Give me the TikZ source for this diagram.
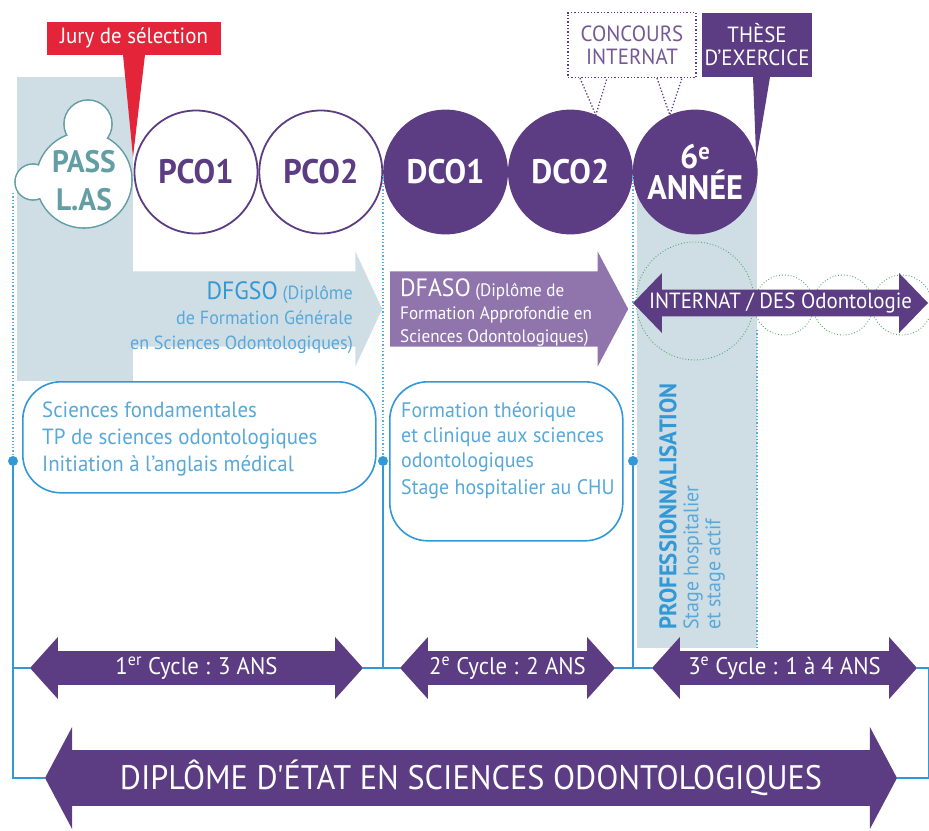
\documentclass[tikz,border=0pt]{standalone}
\usepackage{fontspec}
\setmainfont{PT Sans}[FakeStretch=0.95]
\newfontfamily\straightfont{PT Sans}[FakeStretch=0.95]
\usetikzlibrary{positioning,shapes.arrows,calc}
\definecolor{odpurple}{RGB}{92,60,130}
\definecolor{odlilac}{RGB}{143,117,172}
\definecolor{odgrey}{RGB}{207,222,228}
\definecolor{odblue}{RGB}{50,152,214}
\definecolor{odsky}{RGB}{88,168,218}
\definecolor{odteal}{RGB}{98,158,164}
\definecolor{odred}{RGB}{228,36,56}
\definecolor{odgreen}{RGB}{80,170,105}

\begin{document}
\begin{tikzpicture}[
        x=1pt, y=-1pt,
        year/.style={circle, minimum size=123pt, inner sep=0pt, line width=1.8pt, draw=odpurple, align=center, font=\fontsize{34}{31}\selectfont\bfseries},
        yearring/.style={year, fill=white, text=odpurple},
        yearfill/.style={year, fill=odpurple, text=white},
        infobox/.style={rectangle, rounded corners=38pt, draw=odblue, line width=1.6pt, fill=white, anchor=north west},
        infotext/.style={anchor=north west, align=left, inner sep=0pt, text=odsky, font=\fontsize{22}{27}\selectfont},
        cyclearrow/.style={double arrow, fill=odpurple, text=white, inner sep=0pt, minimum width=62pt, double arrow head extend=9.5pt, double arrow tip angle=96, font=\fontsize{24}{24}\selectfont},
        bigarrow/.style={single arrow, inner xsep=0pt, inner ysep=37.5pt, single arrow head extend=20pt, anchor=tail},
        callout/.style={align=center, inner sep=0pt, font=\fontsize{22}{23}\selectfont},
        wire/.style={draw=odblue, line width=1.6pt},
        dotline/.style={draw=odblue!80, line width=1.3pt, dotted},
        ring/.style={draw=odgreen, line width=0.9pt, dotted},
        bluedot/.style={circle, fill=odblue, inner sep=0pt, minimum size=10pt}
    ]
    \useasboundingbox (0,0) rectangle (929,830);

    % grey bands
    \fill[odgrey] (17,77) rectangle (133,381);
    \node[bigarrow, fill=odgrey, minimum height=252pt, single arrow tip angle=130] (dfgso) at (130,309) {};
    \fill[odgrey] (637,172) rectangle (757,648);
    \node[bigarrow, fill=odlilac, minimum height=238pt, single arrow tip angle=124] (dfaso) at (390,309) {};

    % years
    \node[yearring] (pco1) at (196,172) {PCO1};
    \node[yearring, right=0pt of pco1] (pco2) {PCO2};
    \node[yearfill, right=0pt of pco2] (dco1) {DCO1};
    \node[yearfill, right=0pt of dco1] (dco2) {DCO2};
    \node[yearfill, right=0pt of dco2] (annee) {6\textsuperscript{e}\\ANNÉE};

    % PASS / L.AS cloud
    \foreach \cx/\cy/\rad in {84/180/48, 88/124/24, 33/182/18}
        \draw[odteal, line width=1.6pt] (\cx,\cy) circle[radius=\rad];
    \foreach \cx/\cy/\rad in {84/180/48, 88/124/24, 33/182/18}
        \fill[white] (\cx,\cy) circle[radius=\rad-0.8];
    \node[align=center, text=odteal, font=\fontsize{31}{38}\selectfont\bfseries] (pass) at (84,181) {PASS\\L.AS};

    % internat rings
    \draw[ring] (695,301) circle[radius=59];
    \foreach \cx in {784,843,902}
        \draw[ring] (\cx,305) circle[radius=30];
    \node[double arrow, fill=odpurple, text=white, inner sep=0pt, minimum height=295pt, minimum width=60pt, double arrow head extend=13pt, double arrow tip angle=92, font=\fontsize{22}{22}\selectfont] (internat) at (780.5,303) {INTERNAT / DES Odontologie};

    % callouts
    \node[callout, fill=odred, text=white, minimum width=174pt, minimum height=33pt] (jury) at (134,38) {Jury de sélection};
    \fill[odred] ([xshift=-11pt]jury.south) -- (133,157) -- ([xshift=11pt]jury.south) -- cycle;
    \node[callout, draw=odpurple, dotted, line width=1.3pt, fill=white, text=odpurple!85, minimum width=128pt, minimum height=65pt] (concours) at (632,45) {CONCOURS\\INTERNAT};
    \draw[odpurple, dotted, line width=1.3pt] ([xshift=-52pt]concours.south) -- (dco2.66) -- ([xshift=-25pt]concours.south);
    \draw[odpurple, dotted, line width=1.3pt] ([xshift=25pt]concours.south) -- (annee.114) -- ([xshift=50pt]concours.south);
    \node[callout, fill=odpurple, text=white, minimum width=110pt, minimum height=64pt] (these) at (757,45) {THÈSE\\D’EXERCICE};
    \fill[odpurple] ([xshift=-4pt]these.south) -- (annee.12) -- ([xshift=13pt]these.south) -- cycle;

    % diplomas
    \node[anchor=east, align=right, inner sep=0pt, text=odsky, font=\fontsize{19}{25}\selectfont] (dfgsotxt) at (353,318) {{\color{odblue}\fontsize{25}{25}\selectfont DFGSO} (Diplôme\\de Formation Générale\\en Sciences Odontologiques)};
    \node[anchor=west, align=left, inner sep=0pt, text=white, font=\fontsize{18}{23}\selectfont] (dfasotxt) at (400,313) {{\fontsize{25}{23}\selectfont DFASO} (Diplôme de\\Formation Approfondie en\\Sciences Odontologiques)};

    % contents
    \node[infobox, minimum width=353pt, minimum height=111pt] (box1) at (22,381) {};
    \node[infotext] (box1txt) at (42,402) {Sciences fondamentales\\TP de sciences odontologiques\\Initiation à l’anglais médical};
    \node[infobox, minimum width=233pt, minimum height=159pt] (box2) at (389,381) {};
    \node[infotext, font=\fontsize{21}{25}\selectfont] (box2txt) at (401,402) {Formation théorique\\et clinique aux sciences\\odontologiques\\[2pt]Stage hospitalier au CHU};
    \node[rotate=90, anchor=north west, align=left, inner sep=0pt, text=odsky, font=\fontsize{21}{22}\selectfont] (prof) at (659,630) {{\color{odblue}\fontsize{24}{22}\selectfont\bfseries PROFESSIONNALISATION}\\Stage hospitalier\\et stage actif};

    % timeline
    \node[bluedot] (d1) at (13,461) {};
    \node[bluedot] (d2) at (383,461) {};
    \node[bluedot] (d3) at (633,461) {};
    \draw[dotline] (13,193) -- (d1);
    \draw[dotline] (383,176) -- (d2);
    \draw[dotline] (633,176) -- (d3);
    \draw[dotline] (757,330) -- (757,648);

    \node[cyclearrow, minimum height=333pt] (cy1) at (196.5,668) {1\textsuperscript{er} Cycle : 3 ANS};
    \node[cyclearrow, minimum height=215pt] (cy2) at (507.5,668) {2\textsuperscript{e} Cycle : 2 ANS};
    \node[cyclearrow, minimum height=265pt] (cy3) at (784.5,668) {3\textsuperscript{e} Cycle : 1 à 4 ANS};
    \node[cyclearrow, minimum height=852pt, minimum width=102pt, double arrow head extend=15pt, double arrow tip angle=124, font=\straightfont\fontsize{34}{34}\selectfont] (dip) at (471,778) {DIPLÔME D'ÉTAT EN SCIENCES ODONTOLOGIQUES};

    \draw[wire] (d1) -- (d1 |- dip.west) -- (dip.west);
    \draw[wire] (d1 |- cy1.west) -- (cy1.west);
    \draw[wire] (cy1.east) -| (d2);
    \draw[wire] (d2 |- cy2.west) -- (cy2.west);
    \draw[wire] (cy2.east) -| (d3);
    \draw[wire] (d3 |- cy3.west) -- (cy3.west);
    \draw[wire] (cy3.east) -- ++(11,0) |- (dip.east);
\end{tikzpicture}
\end{document}
